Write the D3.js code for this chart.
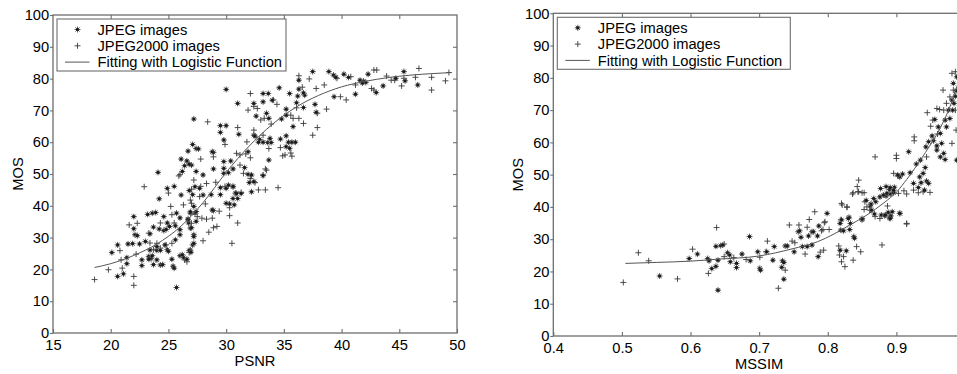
<!DOCTYPE html>
<html>
<head>
<meta charset="utf-8">
<script src="https://cdn.jsdelivr.net/npm/d3@7"></script>
<style>
  body { margin: 0; background: #fff; }
  svg { display: block; font-family: "Liberation Sans", Arial, Helvetica, sans-serif; }
</style>
</head>
<body>
<svg id="chart" width="957" height="374"></svg>
<script>
// ---- data: [x, MOS] pairs ----
const psnrJpeg = [
  [20.1,25.3],[20.6,27.7],[20.6,17.8],[21.1,18.6],[21.4,23.7],[21.4,21.8],[21.5,28.0],[22.0,36.6],[22.0,32.8],[22.1,30.9],
  [22.3,30.6],[21.9,28.1],[22.5,28.0],[22.7,23.0],[22.7,21.2],[23.0,28.8],[23.2,37.3],[23.6,37.7],[23.9,37.9],[23.4,31.2],
  [23.7,33.3],[23.3,24.1],[23.4,26.1],[23.5,23.4],[23.6,24.3],[23.3,23.2],[23.7,21.5],[24.0,23.0],[24.0,26.0],[24.3,26.0],
  [24.3,21.4],[24.2,42.2],[24.2,32.7],[24.0,27.2],[24.5,21.5],[24.6,36.6],[24.7,27.7],[24.6,32.2],[24.8,32.6],[25.1,33.5],
  [24.9,34.6],[24.9,45.5],[25.5,46.1],[24.9,26.2],[25.0,25.7],[25.3,23.2],[25.4,21.0],[25.5,20.4],[25.7,14.3],[25.6,29.3],
  [25.6,33.7],[25.7,37.7],[26.0,30.9],[26.0,32.5],[26.0,24.3],[26.3,23.8],[26.6,23.2],[26.9,26.1],[26.1,43.4],[26.2,24.6],
  [26.8,25.9],[26.95,25.4],[26.75,34.6],[26.9,37.7],[26.7,35.6],[26.9,33.0],[27.1,43.5],[27.7,45.5],[28.0,43.4],[26.8,44.8],
  [27.1,27.7],[27.2,28.2],[27.2,30.9],[27.3,37.7],[27.4,38.2],[27.4,35.1],[27.2,39.8],[28.9,38.5],[28.7,43.5],[29.5,43.5],
  [30.3,40.6],[30.8,44.0],[30.6,46.1],[24.1,50.5],[26.2,50.8],[27.4,50.8],
  [27.2,67.3],[27.1,59.3],[27.4,58.0],[26.7,57.2],[26.1,54.7],[26.6,54.1],[27.0,52.8],[28.9,56.8],[29.8,53.9],[29.8,51.8],
  [29.8,50.2],[28.9,51.6],[28.0,49.7],[30.6,51.6],[30.2,50.4],[31.9,49.9],[33.2,49.5],[32.0,47.3],[32.2,44.4],[30.2,46.5],
  [30.0,45.5],[30.6,46.0],[30.9,43.9],[30.6,42.3],[29.5,45.7],[27.3,46.0],[28.8,38.7],[30.0,40.8],[26.9,38.1],[26.7,35.8],
  [27.0,33.1],[27.2,30.3],[26.0,36.2],[29.5,65.2],[30.0,65.2],[31.1,62.5],[29.5,63.1],[29.8,60.7],[32.4,62.2],[32.9,60.9],
  [33.6,59.9],[33.9,59.9],[34.7,61.0],[35.2,62.0],[35.4,60.0],[35.7,60.0],[36.0,60.0],[35.2,58.6],[35.5,58.1],[30.4,54.1],
  [31.9,57.0],[28.8,57.0],[27.6,57.9],[26.4,52.6],[26.8,53.1],[33.7,54.4],[32.2,49.7],[32.4,47.6],[31.6,52.0],[31.0,42.3],
  [30.7,40.3],[31.3,43.9],[32.5,61.9],[32.8,60.0],[33.2,60.0],[33.8,61.2],
  [30.0,76.6],[33.2,75.3],[33.65,75.3],[34.6,77.1],[35.5,75.3],[36.3,76.7],[36.3,79.5],[37.5,82.2],[38.9,82.2],[31.0,72.2],
  [32.4,72.2],[33.2,72.7],[34.0,73.2],[35.2,70.4],[36.2,74.5],[36.8,74.8],[36.7,75.5],[36.1,72.4],[37.7,71.9],[37.8,69.4],
  [32.6,68.2],[33.5,69.1],[33.7,67.5],[34.8,67.3],[35.2,68.5],[35.8,64.9],[39.3,81.1],[39.5,80.4],[40.2,81.4],[40.6,80.4],
  [41.6,79.5],[41.9,79.2],[42.1,78.8],[41.8,78.6],[42.3,81.4],[43.0,75.6],[43.6,77.7],[44.7,80.1],[45.4,82.2],[45.5,79.3],
  [46.6,78.0],[39.35,74.3],[41.2,75.1],[36.7,70.9]
];
const psnrJp2k = [
  [18.6,16.8],[19.8,19.9],[20.8,25.9],[20.9,23.0],[21.0,20.4],[21.6,34.0],[22.3,34.5],[22.0,17.8],[22.0,15.0],[22.2,24.8],
  [22.9,46.0],[23.3,31.4],[23.4,28.3],[23.7,26.2],[24.0,28.2],[24.3,34.6],[24.3,26.7],[24.8,27.7],[25.0,44.0],[25.2,39.8],
  [25.3,37.2],[25.5,34.6],[25.3,28.2],[25.9,49.4],[26.3,40.3],[26.4,23.0],[26.6,22.4],[26.8,25.3],[26.0,49.8],
  [27.0,45.2],[27.2,48.1],[27.8,46.1],[28.3,47.0],[29.1,47.4],[29.9,46.1],[27.7,42.9],[26.9,41.8],[27.0,40.8],[28.2,40.6],
  [29.4,38.3],[30.3,39.4],[30.3,36.9],[27.5,36.6],[27.9,36.1],[28.3,35.8],[28.8,36.1],[28.5,31.7],[28.9,33.1],[29.2,33.5],
  [28.0,29.0],[27.0,34.5],[30.5,28.2],[31.0,34.6],[31.3,44.2],[32.8,45.0],[33.4,45.0],[34.5,45.7],[32.1,48.6],[32.5,47.3],
  [32.1,75.3],[36.3,80.9],[37.2,79.9],[37.8,76.9],[38.5,78.0],[32.7,70.6],[34.4,71.9],[36.1,70.8],[38.7,70.4],[31.9,70.1],
  [32.4,71.2],[33.0,67.0],[33.3,67.5],[33.9,65.7],[35.8,67.5],[36.7,65.9],[37.5,62.2],[37.9,64.6],[28.4,66.4],[31.0,64.6],
  [29.9,59.3],[32.4,63.8],[33.7,58.0],[34.7,58.3],[35.6,56.6],[35.7,55.6],[34.9,55.7],[31.8,60.1],[30.9,56.5],[31.2,56.0],
  [31.7,56.3],[32.1,55.1],[27.8,54.7],[28.9,55.4],[31.2,52.8],[31.5,50.2],[33.4,51.6],
  [39.6,80.1],[40.8,80.6],[41.2,78.0],[42.8,82.7],[43.05,82.7],[42.6,76.9],[42.8,76.4],[43.9,80.8],[44.3,79.5],[44.6,79.5],
  [45.4,80.1],[45.2,77.7],[46.4,80.4],[46.7,83.2],[47.8,80.4],[47.8,76.4],[49.0,79.3],[49.3,81.9],[39.9,74.3],[40.4,73.3],
  [34.1,73.3],[36.6,77.3],[37.9,69.1],[35.6,68.5],[36.3,67.5],[33.2,62.2],[35.1,56.0],[33.5,51.2],[33.2,49.7]
];
const psnrFit = [
  [18.6,20.6],[20,21.8],[22,24.4],[24,28.0],[26,33.3],[28,41.0],[30,50.5],[32,58.8],[34,65.6],
  [36,70.9],[38,74.7],[40,77.4],[42,79.1],[44,80.3],[46,81.1],[48,81.6],[49.5,81.9]
];

const mssimJpeg = [
  [0.555,18.6],[0.598,24.0],[0.610,25.4],[0.625,24.0],[0.627,23.3],[0.631,20.9],[0.637,21.6],[0.637,27.8],[0.640,23.5],[0.640,14.2],
  [0.644,28.0],[0.647,28.2],[0.654,25.8],[0.657,25.1],[0.658,23.0],[0.667,22.5],[0.667,21.2],[0.675,25.4],[0.686,30.8],[0.687,23.3],
  [0.698,26.1],[0.701,21.0],[0.702,20.4],[0.711,26.1],[0.720,23.5],[0.722,27.7],[0.733,21.3],[0.734,23.3],[0.736,22.8],[0.736,17.6],
  [0.738,27.9],[0.741,27.9],[0.751,26.1],[0.757,32.3],[0.759,32.6],[0.761,30.6],[0.763,27.7],[0.770,27.7],[0.772,31.0],[0.777,28.2],
  [0.777,32.3],[0.779,32.3],[0.785,31.0],[0.786,24.6],[0.787,34.1],[0.799,38.0],[0.818,26.6],[0.819,32.8],[0.820,36.0],[0.823,32.6],
  [0.827,26.4],[0.831,36.8],[0.832,33.0],[0.838,30.8],[0.839,30.3],[0.850,36.0],[0.856,42.0],[0.862,40.3],[0.863,40.9],[0.868,37.8],
  [0.878,37.5],[0.883,37.3],[0.888,38.3],[0.890,36.6],[0.892,37.2],[0.894,38.5],[0.877,45.7],[0.885,46.3],[0.890,45.4],[0.897,46.1],
  [0.885,43.4],[0.891,44.0],[0.896,44.4],[0.905,38.0],[0.932,46.0],[0.936,47.5],[0.941,45.2],[0.944,48.0],
  [0.918,57.1],[0.956,67.1],[0.983,78.3],[0.988,54.5],[0.947,60.2],[0.952,62.0],[0.954,60.5],[0.959,58.9],[0.966,59.7],[0.969,56.6],
  [0.973,64.8],[0.978,67.4],[0.982,70.0],[0.984,72.1],[0.987,76.0],[0.935,54.5],[0.939,50.4],[0.942,52.2],[0.947,47.3],[0.929,53.3],
  [0.934,49.3],[0.905,49.3],[0.909,50.2],[0.902,49.9],[0.920,50.6],[0.925,47.3],[0.891,46.0],[0.896,45.2],[0.886,44.2],[0.881,43.7],
  [0.876,43.1],[0.867,42.6],[0.870,41.6],[0.864,39.0],[0.850,36.4],[0.884,37.5],[0.891,36.4],[0.905,38.0],[0.830,36.4],[0.818,34.9],
  [0.833,34.9],[0.959,57.6],[0.964,55.5],[0.971,54.7],[0.986,74.3],[0.988,80.3],[0.981,73.1],[0.976,70.0],[0.971,66.9],[0.964,62.8],
  [0.961,64.8],[0.943,58.6]
];
const mssimJp2k = [
  [0.502,16.6],[0.524,25.8],[0.539,23.3],[0.581,17.7],[0.603,26.9],[0.626,19.4],[0.638,33.6],[0.649,28.5],[0.649,24.6],[0.663,24.3],
  [0.681,23.7],[0.701,24.4],[0.710,26.1],[0.712,29.4],[0.728,14.8],[0.738,20.4],[0.744,34.4],[0.748,29.4],[0.752,28.9],[0.758,34.4],
  [0.767,25.4],[0.770,33.7],[0.773,36.1],[0.781,38.5],[0.789,26.0],[0.791,32.6],[0.793,33.0],[0.794,26.6],[0.795,35.1],[0.796,35.4],
  [0.802,33.0],[0.816,27.9],[0.817,25.1],[0.819,36.0],[0.821,40.6],[0.823,24.6],[0.825,21.5],[0.828,39.9],[0.820,23.0],[0.837,23.5],
  [0.842,27.7],[0.848,26.1],[0.836,44.0],[0.844,44.7],[0.853,44.4],[0.843,46.3],[0.853,39.2],[0.861,39.0],[0.879,28.2],[0.887,40.3],
  [0.903,44.2],[0.911,45.0],[0.915,44.0],[0.915,34.7],[0.949,44.5],
  [0.869,55.5],[0.900,56.0],[0.900,55.0],[0.926,61.7],[0.926,60.5],[0.945,69.2],[0.959,70.5],[0.963,70.2],[0.968,76.2],[0.981,81.4],
  [0.986,81.9],[0.845,48.3],[0.837,44.4],[0.845,44.7],[0.850,44.4],[0.854,41.6],[0.857,40.0],[0.869,37.0],[0.876,36.4],[0.915,34.9],
  [0.820,41.1],[0.828,40.0],[0.896,50.4],[0.902,49.6],[0.925,45.2],[0.932,44.4],[0.939,44.7],[0.950,65.0],[0.953,66.9],[0.960,62.6],
  [0.944,55.5],[0.969,70.0],[0.973,72.1],[0.978,74.1],[0.983,76.2],[0.986,70.0],[0.987,63.8],[0.981,59.7]
];
const mssimFit = [
  [0.505,22.5],[0.55,22.8],[0.6,23.2],[0.639,23.8],[0.7,24.8],[0.748,27.0],[0.785,29.2],[0.809,31.6],[0.833,34.5],
  [0.857,37.5],[0.882,41.3],[0.901,44.8],[0.915,48.5],[0.939,55.8],[0.964,64.5],[0.978,71.0],[0.988,77.2],[0.995,81.5]
];

const mosTicks = [0, 10, 20, 30, 40, 50, 60, 70, 80, 90, 100];
const psnrTicks = [15, 20, 25, 30, 35, 40, 45, 50];
const mssimTicks = [0.4, 0.5, 0.6, 0.7, 0.8, 0.9];   // 1.0 falls outside the picture
const legendLabels = ["JPEG images", "JPEG2000 images", "Fitting with Logistic Function"];

const svg = d3.select("#chart");
const axisColor = "#6e6e6e";
const fontSize = 14.7;

const starPath = s => `M${-s},0H${s}M0,${-s}V${s}M${-s*0.7},${-s*0.7}L${s*0.7},${s*0.7}M${-s*0.7},${s*0.7}L${s*0.7},${-s*0.7}`;
const plusPath = s => `M${-s},0H${s}M0,${-s}V${s}`;

function drawStars(g, pts, x, y) {
  const m = g.selectAll(null).data(pts).join("g")
    .attr("transform", d => `translate(${x(d[0])},${y(d[1])})`);
  m.append("path").attr("d", starPath(3)).attr("stroke", "#5a5a5a").attr("stroke-width", 1).attr("fill", "none");
  m.append("circle").attr("r", 1.6).attr("fill", "#1a1a1a");
}

function drawPlus(g, pts, x, y) {
  g.selectAll(null).data(pts).join("path")
    .attr("transform", d => `translate(${x(d[0])},${y(d[1])})`)
    .attr("d", plusPath(3))
    .attr("stroke", "#3a3a3a")
    .attr("stroke-width", 0.9)
    .attr("fill", "none");
}

function styleAxis(g) {
  g.select(".domain").remove();
  g.selectAll(".tick line").attr("stroke", axisColor).attr("stroke-width", 1.1);
  g.selectAll(".tick text").attr("fill", "#000").attr("font-size", fontSize)
    .attr("font-family", "Liberation Sans, Arial, sans-serif");
}

function drawPanel(p) {
  const x = d3.scaleLinear().domain(p.xDomain).range([p.x0, p.x1]);
  const y = d3.scaleLinear().domain([0, 100]).range([p.y1, p.y0]);
  const g = svg.append("g");

  // inner ticks on top / right, labelled axes at bottom / left
  g.append("g").attr("transform", `translate(0,${p.y0})`)
    .call(d3.axisTop(x).tickValues(p.topTicks).tickSize(-4).tickFormat(""))
    .call(styleAxis);
  g.append("g").attr("transform", `translate(${p.x1},0)`)
    .call(d3.axisRight(y).tickValues(mosTicks.slice(1, -1)).tickSize(-4).tickFormat(""))
    .call(styleAxis);
  g.append("g").attr("transform", `translate(0,${p.y1})`)
    .call(d3.axisBottom(x).tickValues(p.xTicks).tickSize(-4).tickPadding(6.2).tickFormat(p.fmt))
    .call(styleAxis);
  g.append("g").attr("transform", `translate(${p.x0},0)`)
    .call(d3.axisLeft(y).tickValues(mosTicks).tickSize(3).tickPadding(0.8))
    .call(styleAxis);

  g.append("rect")
    .attr("x", p.x0).attr("y", p.y0)
    .attr("width", p.x1 - p.x0).attr("height", p.y1 - p.y0)
    .attr("fill", "none").attr("stroke", axisColor).attr("stroke-width", 1.3);

  drawPlus(g, p.jp2k, x, y);
  drawStars(g, p.jpeg, x, y);

  const line = d3.line().x(d => x(d[0])).y(d => y(d[1])).curve(d3.curveMonotoneX);
  g.append("path").datum(p.fit).attr("d", line)
    .attr("fill", "none").attr("stroke", "#555").attr("stroke-width", 1);

  // axis titles
  g.append("text")
    .attr("x", (p.x0 + p.x1) / 2).attr("y", p.y1 + 32.5)
    .attr("text-anchor", "middle").attr("font-size", fontSize).text(p.xLabel);
  g.append("text")
    .attr("transform", `translate(${p.x0 - 30},${(p.y0 + p.y1) / 2}) rotate(-90)`)
    .attr("text-anchor", "middle").attr("font-size", fontSize).text("MOS");

  // legend
  const lg = g.append("g").attr("transform", `translate(${p.x0 + 4},${p.y0 + 4})`);
  lg.append("rect").attr("width", p.legendW).attr("height", 52)
    .attr("fill", "#fff").attr("stroke", axisColor).attr("stroke-width", 1.1);
  const rows = [10.5, 26.8, 43.1];
  legendLabels.forEach((t, i) => {
    lg.append("text").attr("x", 40.5).attr("y", rows[i] + 5.2).attr("font-size", fontSize).text(t);
  });
  drawStars(lg, [[0, 0]], () => 20.5, () => rows[0]);
  drawPlus(lg, [[0, 0]], () => 20.5, () => rows[1]);
  lg.append("line").attr("x1", 8).attr("x2", 32.5).attr("y1", rows[2]).attr("y2", rows[2])
    .attr("stroke", "#555").attr("stroke-width", 1);
}

drawPanel({
  x0: 53, x1: 457, y0: 15, y1: 333,
  xDomain: [15, 50], xTicks: psnrTicks, topTicks: psnrTicks.slice(1, -1),
  fmt: d3.format("d"), xLabel: "PSNR",
  jpeg: psnrJpeg, jp2k: psnrJp2k, fit: psnrFit, legendW: 229
});
drawPanel({
  x0: 553.3, x1: 965, y0: 13.3, y1: 336,
  xDomain: [0.4, 1.0], xTicks: mssimTicks, topTicks: mssimTicks.slice(1),
  fmt: d3.format(".1f"), xLabel: "MSSIM",
  jpeg: mssimJpeg, jp2k: mssimJp2k, fit: mssimFit, legendW: 233
});
</script>
</body>
</html>
